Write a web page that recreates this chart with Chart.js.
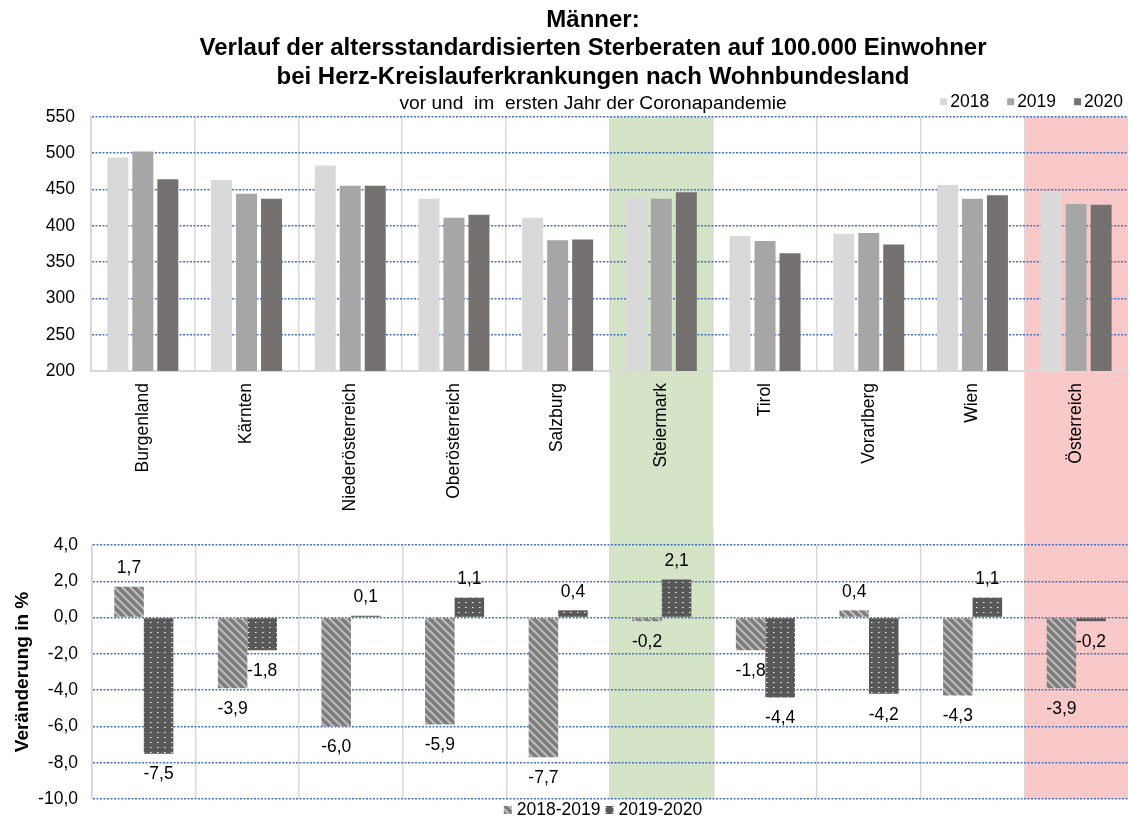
<!DOCTYPE html>
<html lang="de">
<head>
<meta charset="utf-8">
<title>Männer: Sterberaten Herz-Kreislauferkrankungen</title>
<script src="https://cdn.jsdelivr.net/npm/chart.js@4/dist/chart.umd.min.js"></script>
<style>
  html, body { margin: 0; padding: 0; background: #ffffff; }
  #wrap { position: relative; width: 1130px; height: 818px; overflow: hidden; }
  #rates { position: absolute; left: 0; top: 0; width: 1130px; height: 530px; }
  #changes { position: absolute; left: 0; top: 530px; width: 1130px; height: 288px; }
</style>
</head>
<body>
<div id="wrap">
  <canvas id="rates" width="1130" height="530"></canvas>
  <canvas id="changes" width="1130" height="288"></canvas>
</div>
<script>
// ---- data -------------------------------------------------------------
const regions = ['Burgenland', 'Kärnten', 'Niederösterreich', 'Oberösterreich', 'Salzburg',
                 'Steiermark', 'Tirol', 'Vorarlberg', 'Wien', 'Österreich'];

// age-standardised death rates per 100,000 inhabitants (men)
const rate2018 = [494, 463, 483, 437, 411, 438, 386, 389, 456, 447];
const rate2019 = [502, 444, 455, 411, 380, 437, 379, 390, 437, 430];
const rate2020 = [464, 437, 455, 415, 381, 446, 362, 374, 442, 429];

// change in percent
const change1819 = [1.7, -3.9, -6.0, -5.9, -7.7, -0.2, -1.8, 0.4, -4.3, -3.9];
const change1920 = [-7.5, -1.8, 0.1, 1.1, 0.4, 2.1, -4.4, -4.2, 1.1, -0.2];

// axis ticks
const rateTicks = [200, 250, 300, 350, 400, 450, 500, 550];
const changeTicks = [-10, -8, -6, -4, -2, 0, 2, 4];

// highlighted columns
const highlighted = { 'Steiermark': '#d5e3c6', 'Österreich': '#f9c9c9' };

// ---- styling helpers --------------------------------------------------
const FONT = "'Liberation Sans', Arial, Helvetica, sans-serif";
const GRID_BLUE = '#4472c4';
const GRID_GREY = '#d9d9d9';
const decimal = v => v.toFixed(1).replace('.', ',');

function hatchPattern() {
  const c = document.createElement('canvas');
  c.width = 8; c.height = 8;
  const g = c.getContext('2d');
  g.fillStyle = '#7f7f7f';
  g.fillRect(0, 0, 8, 8);
  g.fillStyle = '#b9b9b9';
  for (let y = 0; y < 8; y++) {
    for (let x = 0; x < 8; x++) {
      if (((x - y) % 8 + 8) % 8 < 3) g.fillRect(x, y, 1, 1);
    }
  }
  return g.createPattern(c, 'repeat');
}

function dotPattern() {
  const c = document.createElement('canvas');
  c.width = 7; c.height = 5;
  const g = c.getContext('2d');
  g.fillStyle = '#595959';
  g.fillRect(0, 0, 7, 5);
  g.fillStyle = '#f2f2f2';
  g.fillRect(3, 2, 1, 1);
  g.fillStyle = '#a8a8a8';
  g.fillRect(4, 2, 1, 1);
  return g.createPattern(c, 'repeat');
}

// ---- plugins ----------------------------------------------------------
// coloured background columns behind selected categories
const bandPlugin = {
  id: 'bands',
  beforeDraw(chart, args, opts) {
    const x = chart.scales.x;
    const area = chart.chartArea;
    const ctx = chart.ctx;
    const step = (x.right - x.left) / regions.length;
    const top = opts.toTop ? 0 : area.top;
    const bottom = opts.toTop ? area.bottom : chart.height;
    ctx.save();
    regions.forEach((r, i) => {
      const colour = highlighted[r];
      if (!colour) return;
      const cx = x.getPixelForValue(i);
      ctx.fillStyle = colour;
      ctx.fillRect(cx - step / 2, top, step, bottom - top);
    });
    ctx.restore();
  }
};

// moves the full-width title/subtitle block a little to the right
const titleShiftPlugin = {
  id: 'titleShift',
  afterLayout(chart, args, opts) {
    chart.boxes.forEach(b => {
      if (b.position === 'top' && b.fullSize) {
        b.left += opts.left;
        b.width = b.right - b.left;
      }
    });
  }
};

// compact legend row with small square keys
const keyPlugin = {
  id: 'key',
  afterDraw(chart, args, opts) {
    const ctx = chart.ctx;
    const area = chart.chartArea;
    ctx.save();
    ctx.font = opts.size + 'px ' + FONT;
    ctx.textBaseline = 'middle';
    ctx.textAlign = 'left';
    const items = chart.data.datasets.map(d => ({
      label: d.label, fill: d.backgroundColor, w: ctx.measureText(d.label).width
    }));
    const total = items.reduce((s, it) => s + opts.box + opts.gapBox + it.w, 0)
                + opts.gapItem * (items.length - 1);
    let x = opts.align === 'end'
      ? area.right - opts.inset - total
      : (area.left + area.right) / 2 - total / 2 + opts.shift;
    const y = (opts.anchor === 'top' ? area.top : area.bottom) + opts.dy;
    items.forEach(it => {
      ctx.fillStyle = it.fill;
      ctx.fillRect(x, y - opts.box / 2, opts.box, opts.box);
      x += opts.box + opts.gapBox;
      ctx.fillStyle = '#000000';
      ctx.fillText(it.label, x, y);
      x += it.w + opts.gapItem;
    });
    ctx.restore();
  }
};

// value labels beyond the end of each bar
const valuePlugin = {
  id: 'values',
  afterDatasetsDraw(chart, args, opts) {
    const ctx = chart.ctx;
    ctx.save();
    ctx.font = opts.size + 'px ' + FONT;
    ctx.fillStyle = '#000000';
    ctx.textAlign = 'center';
    ctx.textBaseline = 'middle';
    chart.data.datasets.forEach((ds, di) => {
      chart.getDatasetMeta(di).data.forEach((bar, i) => {
        const v = ds.data[i];
        const y = v >= 0 ? bar.y - opts.above : bar.y + opts.below;
        ctx.fillText(decimal(v), bar.x, y);
      });
    });
    ctx.restore();
  }
};

const verticalGrid = {
  color: c => (c.type === 'tick' ? GRID_GREY : 'rgba(0,0,0,0)'),
  lineWidth: 1.5,
  drawTicks: false,
  offset: true
};

// keep the value axis from reserving extra room for its end labels
function fixValueAxis(width) {
  return s => {
    s.width = width;
    s.paddingTop = 0;
    s.paddingBottom = 0;
  };
}

// ---- upper chart: rates ----------------------------------------------
new Chart(document.getElementById('rates'), {
  type: 'bar',
  data: {
    labels: regions,
    datasets: [
      { label: '2018', data: rate2018, backgroundColor: '#d9d9d9' },
      { label: '2019', data: rate2019, backgroundColor: '#a6a6a6' },
      { label: '2020', data: rate2020, backgroundColor: '#767171' }
    ]
  },
  options: {
    responsive: false,
    animation: false,
    layout: { padding: { left: 0, right: 2, top: 0, bottom: 0 } },
    datasets: { bar: { categoryPercentage: 0.723, barPercentage: 0.84 } },
    plugins: {
      legend: { display: false },
      tooltip: { enabled: false },
      title: {
        display: true,
        text: ['Männer:',
               'Verlauf der altersstandardisierten Sterberaten auf 100.000 Einwohner',
               'bei Herz-Kreislauferkrankungen nach Wohnbundesland'],
        color: '#000000',
        font: { family: FONT, size: 24, weight: 'bold', lineHeight: 1.2 },
        padding: { top: 5.5, bottom: 0 }
      },
      subtitle: {
        display: true,
        text: 'vor und  im  ersten Jahr der Coronapandemie',
        color: '#000000',
        font: { family: FONT, size: 19.2, lineHeight: 1.2 },
        padding: { top: 0, bottom: 1.8 }
      },
      titleShift: { left: 58 },
      bands: { toTop: false },
      key: { anchor: 'top', dy: -15, align: 'end', inset: 5, shift: 0,
             box: 7, gapBox: 3, gapItem: 18, size: 17.5 }
    },
    scales: {
      x: {
        grid: verticalGrid,
        border: { color: GRID_GREY, width: 2 },
        ticks: { minRotation: 90, maxRotation: 90, autoSkip: false, padding: 12,
                 color: '#000000', font: { family: FONT, size: 17.5 } },
        afterFit(s) { s.height = 159; }
      },
      y: {
        min: rateTicks[0],
        max: rateTicks[rateTicks.length - 1],
        ticks: { stepSize: rateTicks[1] - rateTicks[0], padding: 16,
                 color: '#000000', font: { family: FONT, size: 17.5 } },
        grid: {
          color: c => (c.tick && c.tick.value === rateTicks[0] ? 'rgba(0,0,0,0)' : GRID_BLUE),
          lineWidth: 1.5,
          drawTicks: false
        },
        border: { color: GRID_GREY, width: 2, dash: [2, 1.5] },
        afterFit: fixValueAxis(91)
      }
    }
  },
  plugins: [bandPlugin, titleShiftPlugin, keyPlugin]
});

// ---- lower chart: change in percent ------------------------------------
new Chart(document.getElementById('changes'), {
  type: 'bar',
  data: {
    labels: regions,
    datasets: [
      { label: '2018-2019', data: change1819, backgroundColor: hatchPattern() },
      { label: '2019-2020', data: change1920, backgroundColor: dotPattern() }
    ]
  },
  options: {
    responsive: false,
    animation: false,
    layout: { padding: { left: 0, right: 2, top: 15, bottom: 19 } },
    datasets: { bar: { categoryPercentage: 0.57, barPercentage: 1.0 } },
    plugins: {
      legend: { display: false },
      tooltip: { enabled: false },
      bands: { toTop: true },
      key: { anchor: 'bottom', dy: 11, align: 'center', inset: 0, shift: -7,
             box: 8, gapBox: 5, gapItem: 5, size: 17.5 },
      values: { size: 17.5, above: 18.5, below: 21 }
    },
    scales: {
      x: {
        grid: verticalGrid,
        border: { display: false },
        ticks: { display: false },
        afterFit(s) { s.height = 0; }
      },
      y: {
        min: changeTicks[0],
        max: changeTicks[changeTicks.length - 1],
        ticks: {
          stepSize: changeTicks[1] - changeTicks[0],
          padding: 14,
          color: '#000000',
          font: { family: FONT, size: 17.5 },
          callback: v => decimal(v)
        },
        grid: { color: GRID_BLUE, lineWidth: 1.5, drawTicks: false },
        border: { color: GRID_GREY, width: 2, dash: [2, 1.5] },
        title: {
          display: true,
          text: 'Veränderung in %',
          color: '#000000',
          font: { family: FONT, size: 19, weight: 'bold', lineHeight: 1.2 },
          padding: { top: 11, bottom: 0 }
        },
        afterFit: fixValueAxis(92)
      }
    }
  },
  plugins: [bandPlugin, keyPlugin, valuePlugin]
});
</script>
</body>
</html>
